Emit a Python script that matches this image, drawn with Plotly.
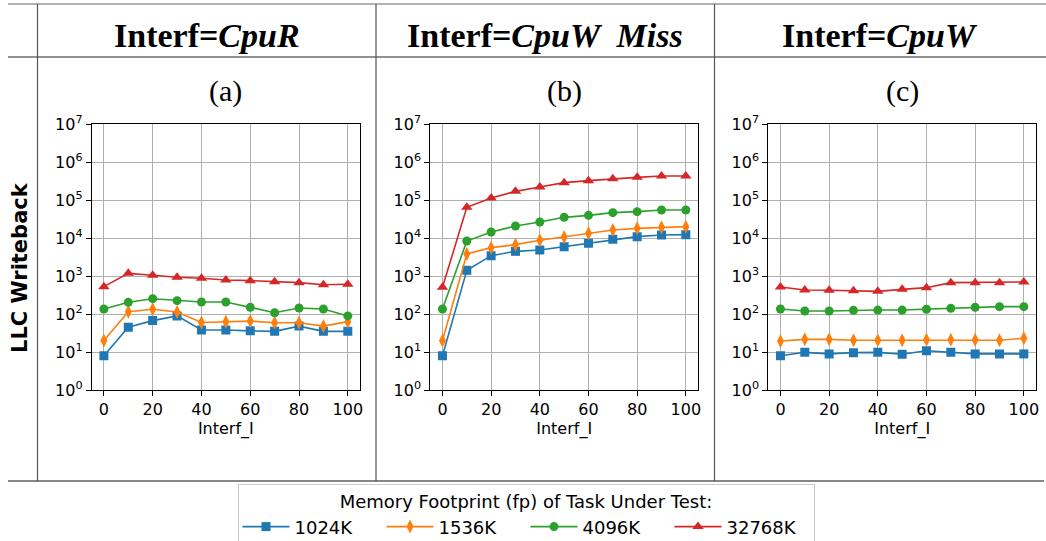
import plotly.graph_objects as go

W, H = 1046, 541

x_vals = [0, 10, 20, 30, 40, 50, 60, 70, 80, 90, 100]
series_names = ["1024K", "1536K", "4096K", "32768K"]
panel_titles = ["<b>Interf=<i>CpuR</i></b>", "<b>Interf=<i>CpuW  Miss</i></b>", "<b>Interf=<i>CpuW</i></b>"]
panel_labels = ["(a)", "(b)", "(c)"]
y_tick_vals = [1, 10, 100, 1000, 10000, 100000, 1000000, 10000000]
y_tick_text = ["10<sup>%d</sup>" % i for i in range(8)]
x_tick_vals = [0, 20, 40, 60, 80, 100]

# Panel (a) Interf=CpuR
a_1024 = [8, 45, 67, 89, 38, 38, 36, 35, 48, 35, 35]
a_1536 = [20, 115, 133, 113, 60, 63, 65, 59, 59, 48, 63]
a_4096 = [135, 203, 253, 224, 207, 207, 150, 108, 144, 135, 89]
a_32768 = [524, 1175, 1042, 923, 869, 785, 754, 710, 668, 591, 604]

# Panel (b) Interf=CpuW Miss
b_1024 = [8, 1410, 3430, 4460, 4830, 5910, 7240, 9230, 10840, 12000, 12240]
b_1536 = [20, 3790, 5570, 6680, 8690, 10620, 13270, 16240, 17950, 19090, 19880]
b_4096 = [135, 8340, 14380, 20700, 26380, 35000, 39480, 46400, 49300, 54560, 54560]
b_32768 = [503, 64100, 113000, 169000, 220000, 286000, 323000, 364000, 395000, 428000, 428000]

# Panel (c) Interf=CpuW
c_1024 = [8, 9.8, 8.9, 9.6, 9.8, 8.7, 10.8, 9.8, 8.9, 8.9, 8.9]
c_1536 = [19.5, 21.5, 21.5, 20.3, 20.3, 20.3, 21, 21, 21, 20.3, 22.9]
c_4096 = [135, 120, 120, 125, 127, 127, 133, 141, 150, 156, 156]
c_32768 = [514, 428, 420, 411, 395, 446, 493, 668, 668, 668, 695]

panels = [
    [a_1024, a_1536, a_4096, a_32768],
    [b_1024, b_1536, b_4096, b_32768],
    [c_1024, c_1536, c_4096, c_32768],
]

colors = ["#1f77b4", "#ff7f0e", "#2ca02c", "#d62728"]
symbols = ["square", "diamond-tall", "circle", "triangle-up"]
msizes = [9, 10, 9, 10]

# layout geometry (pixels)
x_doms_px = [(91.7, 360.0), (430.3, 698.0), (768.3, 1036.0)]
y_top_px, y_bot_px = 124.0, 390.0

fig = go.Figure()

for p, data in enumerate(panels):
    ax = "" if p == 0 else str(p + 1)
    for s, ys in enumerate(data):
        fig.add_trace(go.Scatter(
            x=x_vals, y=ys, mode="lines+markers",
            name=series_names[s],
            legendgroup=series_names[s],
            showlegend=(p == 0),
            line=dict(color=colors[s], width=1.6),
            marker=dict(symbol=symbols[s], size=msizes[s], color=colors[s]),
            xaxis="x" + ax, yaxis="y" + ax,
        ))

axis_font = dict(family="DejaVu Sans", size=16, color="#000")
for p in range(3):
    ax = "" if p == 0 else str(p + 1)
    x0, x1 = x_doms_px[p]
    fig.layout["xaxis" + ax] = dict(
        domain=[x0 / W, x1 / W], range=[-5, 105], anchor="y" + ax,
        tickvals=x_tick_vals, ticks="outside", ticklen=5, tickcolor="#000",
        showgrid=True, gridcolor="#b0b0b0", gridwidth=1,
        showline=True, linecolor="#000", linewidth=1, mirror=True,
        zeroline=False, tickfont=axis_font,
        title=dict(text="Interf_I", font=axis_font, standoff=0),
    )
    fig.layout["yaxis" + ax] = dict(
        domain=[1 - y_bot_px / H, 1 - y_top_px / H], type="log", range=[0, 7],
        anchor="x" + ax, tickvals=y_tick_vals, ticktext=y_tick_text,
        ticks="outside", ticklen=5, tickcolor="#000",
        showgrid=True, gridcolor="#b0b0b0", gridwidth=1,
        showline=True, linecolor="#000", linewidth=1, mirror=True,
        zeroline=False, tickfont=axis_font,
    )

annotations = []
col_centers = [(38 + 376) / 2, (376 + 714) / 2, (714 + 1046) / 2]
for p in range(3):
    annotations.append(dict(
        x=col_centers[p] / W, y=1 - 36 / H, xref="paper", yref="paper",
        text=panel_titles[p], showarrow=False, xanchor="center", yanchor="middle",
        font=dict(family="Liberation Serif", size=34, color="#000"),
    ))
    annotations.append(dict(
        x=(x_doms_px[p][0] + x_doms_px[p][1]) / 2 / W, y=1 - 91 / H,
        xref="paper", yref="paper", text=panel_labels[p], showarrow=False,
        xanchor="center", yanchor="middle",
        font=dict(family="Liberation Serif", size=30, color="#000"),
    ))
annotations.append(dict(
    x=20 / W, y=1 - 268 / H, xref="paper", yref="paper", text="<b>LLC Writeback</b>",
    showarrow=False, textangle=-90, xanchor="center", yanchor="middle",
    font=dict(family="DejaVu Sans", size=21, color="#000"),
))

shapes = []
def hline(y, x0, x1, color, w=1.2):
    shapes.append(dict(type="line", xref="paper", yref="paper",
                       x0=x0 / W, x1=x1 / W, y0=1 - y / H, y1=1 - y / H,
                       line=dict(color=color, width=w)))
def vline(x, y0, y1, color, w=1.2):
    shapes.append(dict(type="line", xref="paper", yref="paper",
                       x0=x / W, x1=x / W, y0=1 - y0 / H, y1=1 - y1 / H,
                       line=dict(color=color, width=w)))

hline(4, 8, 1046, "#666")
hline(57, 8, 1046, "#222")
hline(481, 8, 1044, "#111")
for xv in [37.5, 376, 714.5]:
    vline(xv, 4, 481, "#555")

fig.update_layout(
    width=W, height=H,
    margin=dict(l=0, r=0, t=0, b=0, autoexpand=False),
    paper_bgcolor="white", plot_bgcolor="white",
    annotations=annotations, shapes=shapes,
    showlegend=True,
    legend=dict(
        orientation="h", x=526 / W, xanchor="center", y=1 - 484 / H, yanchor="top",
        title=dict(text="Memory Footprint (fp) of Task Under Test:", side="top center",
                   font=dict(family="DejaVu Sans", size=18, color="#000")),
        font=dict(family="DejaVu Sans", size=18, color="#000"),
        bordercolor="#cccccc", borderwidth=1, bgcolor="white",
        itemwidth=47, entrywidth=82, entrywidthmode="pixels", tracegroupgap=0,
    ),
)

fig.write_html("out.html")
